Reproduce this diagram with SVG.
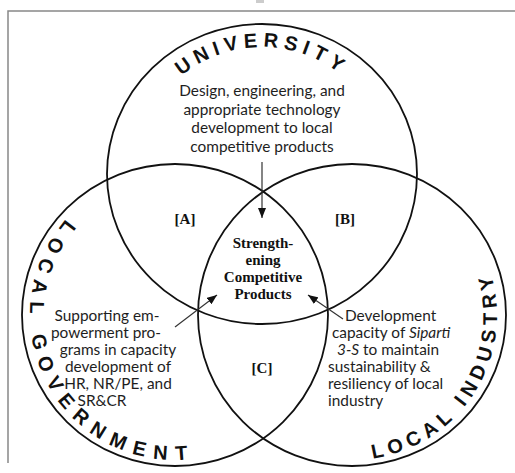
<svg xmlns="http://www.w3.org/2000/svg" width="515" height="473" viewBox="0 0 515 473">
<style>
.ring{fill:none;stroke:#111;stroke-width:1.8}
.body{font-family:Lato,"Liberation Sans",Arial,sans-serif;font-size:15.4px;fill:#1e1e1e}
.mid{text-anchor:middle}
.arc{font-family:"Liberation Sans",Arial,sans-serif;font-size:20px;font-weight:bold;fill:#111}
.serif{font-family:"Liberation Serif","Times New Roman",serif;font-size:15px;font-weight:bold;fill:#111;text-anchor:middle}
.conn{stroke:#333;stroke-width:1.2;fill:none;marker-end:url(#ah)}
</style>
<defs>
<marker id="ah" markerUnits="userSpaceOnUse" markerWidth="10" markerHeight="8" refX="10" refY="4" orient="auto">
<path d="M0,0 L10,4 L0,8 z" fill="#111"/>
</marker>
<path id="pU" d="M 135 174 A 127 127 0 0 1 389 174"/>
<path id="pG" d="M 175 170 A 145 145 0 1 0 175 460 A 145 145 0 1 0 175 170"/>
<path id="pI" d="M 352 460 A 145 145 0 1 0 352 170 A 145 145 0 1 0 352 460"/>
</defs>
<rect width="515" height="473" fill="#fff"/>
<path d="M 8 463 L 8 11 L 515 11" fill="none" stroke="#888" stroke-width="1.5"/>
<rect x="256" y="0" width="8" height="3" fill="#ccc"/>

<g id="node-university">
<ellipse class="ring" cx="262" cy="174" rx="155" ry="150"/>
<text class="arc" letter-spacing="5.5"><textPath href="#pU" startOffset="50%" text-anchor="middle">UNIVERSITY</textPath></text>
<text class="body mid" font-size="16" x="262" y="96">Design, engineering, and</text>
<text class="body mid" font-size="16" x="262" y="114.5">appropriate technology</text>
<text class="body mid" font-size="16" x="262" y="133">development to local</text>
<text class="body mid" font-size="16" x="262" y="151.5">competitive products</text>
</g>

<g id="node-government">
<ellipse class="ring" cx="175" cy="315" rx="153" ry="151"/>
<text class="arc" letter-spacing="8.5"><textPath href="#pG" startOffset="300" text-anchor="middle">LOCAL GOVERNMENT</textPath></text>
<text class="body mid" x="107" y="321">Supporting em-</text>
<text class="body mid" x="106" y="338">powerment pro-</text>
<text class="body mid" x="118" y="355">grams in capacity</text>
<text class="body mid" x="118" y="372">development of</text>
<text class="body mid" x="118" y="389">HR, NR/PE, and</text>
<text class="body mid" x="102" y="406">SR&amp;CR</text>
</g>

<g id="node-industry">
<ellipse class="ring" cx="352" cy="315" rx="154" ry="151"/>
<text class="arc" letter-spacing="5.5"><textPath href="#pI" startOffset="147" text-anchor="middle">LOCAL INDUSTRY</textPath></text>
<text class="body" x="345" y="321">Development</text>
<text class="body" x="332" y="338">capacity of <tspan font-style="italic">Siparti</tspan></text>
<text class="body" x="337" y="355"><tspan font-style="italic">3-S</tspan> to maintain</text>
<text class="body" x="328" y="372">sustainability &amp;</text>
<text class="body" x="328" y="389">resiliency of local</text>
<text class="body" x="328" y="406">industry</text>
</g>

<g id="node-A"><text class="serif" x="185" y="224">[A]</text></g>
<g id="node-B"><text class="serif" x="345" y="224">[B]</text></g>
<g id="node-C"><text class="serif" x="262" y="373">[C]</text></g>

<g id="node-center">
<text class="serif" x="263" y="248">Strength-</text>
<text class="serif" x="263" y="265">ening</text>
<text class="serif" x="263" y="282">Competitive</text>
<text class="serif" x="263" y="299">Products</text>
</g>

<g id="connectors">
<line class="conn" x1="262" y1="162" x2="262" y2="218"/>
<line class="conn" x1="175" y1="327" x2="217" y2="295"/>
<line class="conn" x1="343" y1="319" x2="308" y2="295"/>
</g>
</svg>
